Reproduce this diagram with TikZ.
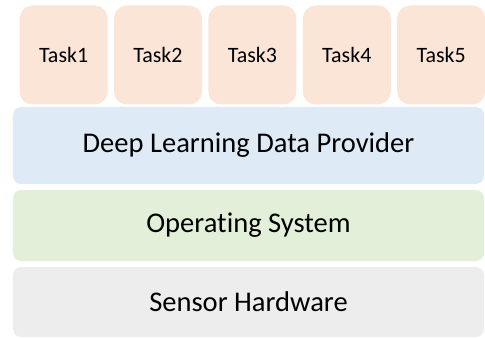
\documentclass[tikz,border=0pt]{standalone}
\usepackage{fontspec}
\setmainfont[Ligatures=CommonOff]{Carlito}
\definecolor{taskfill}{HTML}{FBE5D6}
\definecolor{dlfill}{HTML}{DEEBF7}
\definecolor{osfill}{HTML}{E2F0D9}
\definecolor{hwfill}{HTML}{EDEDED}
\begin{document}
\begin{tikzpicture}[
    task/.style={rectangle, rounded corners=0.32cm, fill=taskfill, inner sep=0pt,
      minimum width=2.2cm, minimum height=2.475cm, font=\fontsize{15.6}{18}\selectfont},
    layer/.style={rectangle, rounded corners=0.2cm, inner sep=0pt,
      minimum width=11.775cm, font=\fontsize{20.3}{24}\selectfont}]
  \useasboundingbox (0,0) rectangle (12.125,8.425);
  \path
    (1.59,7.05) node[task] (t1){Task1}
    (3.95,7.05) node[task] (t2){Task2}
    (6.31,7.05) node[task] (t3){Task3}
    (8.67,7.05) node[task] (t4){Task4}
    (11.03,7.05) node[task] (t5){Task5};
  \path
    (6.2125,4.7875) node[layer, fill=dlfill, minimum height=1.925cm] (dl){Deep Learning Data Provider}
    (6.2125,2.7875) node[layer, fill=osfill, minimum height=1.775cm] (os){Operating System}
    (6.2125,0.875) node[layer, fill=hwfill, minimum height=1.75cm] (hw){Sensor Hardware};
\end{tikzpicture}
\end{document}
